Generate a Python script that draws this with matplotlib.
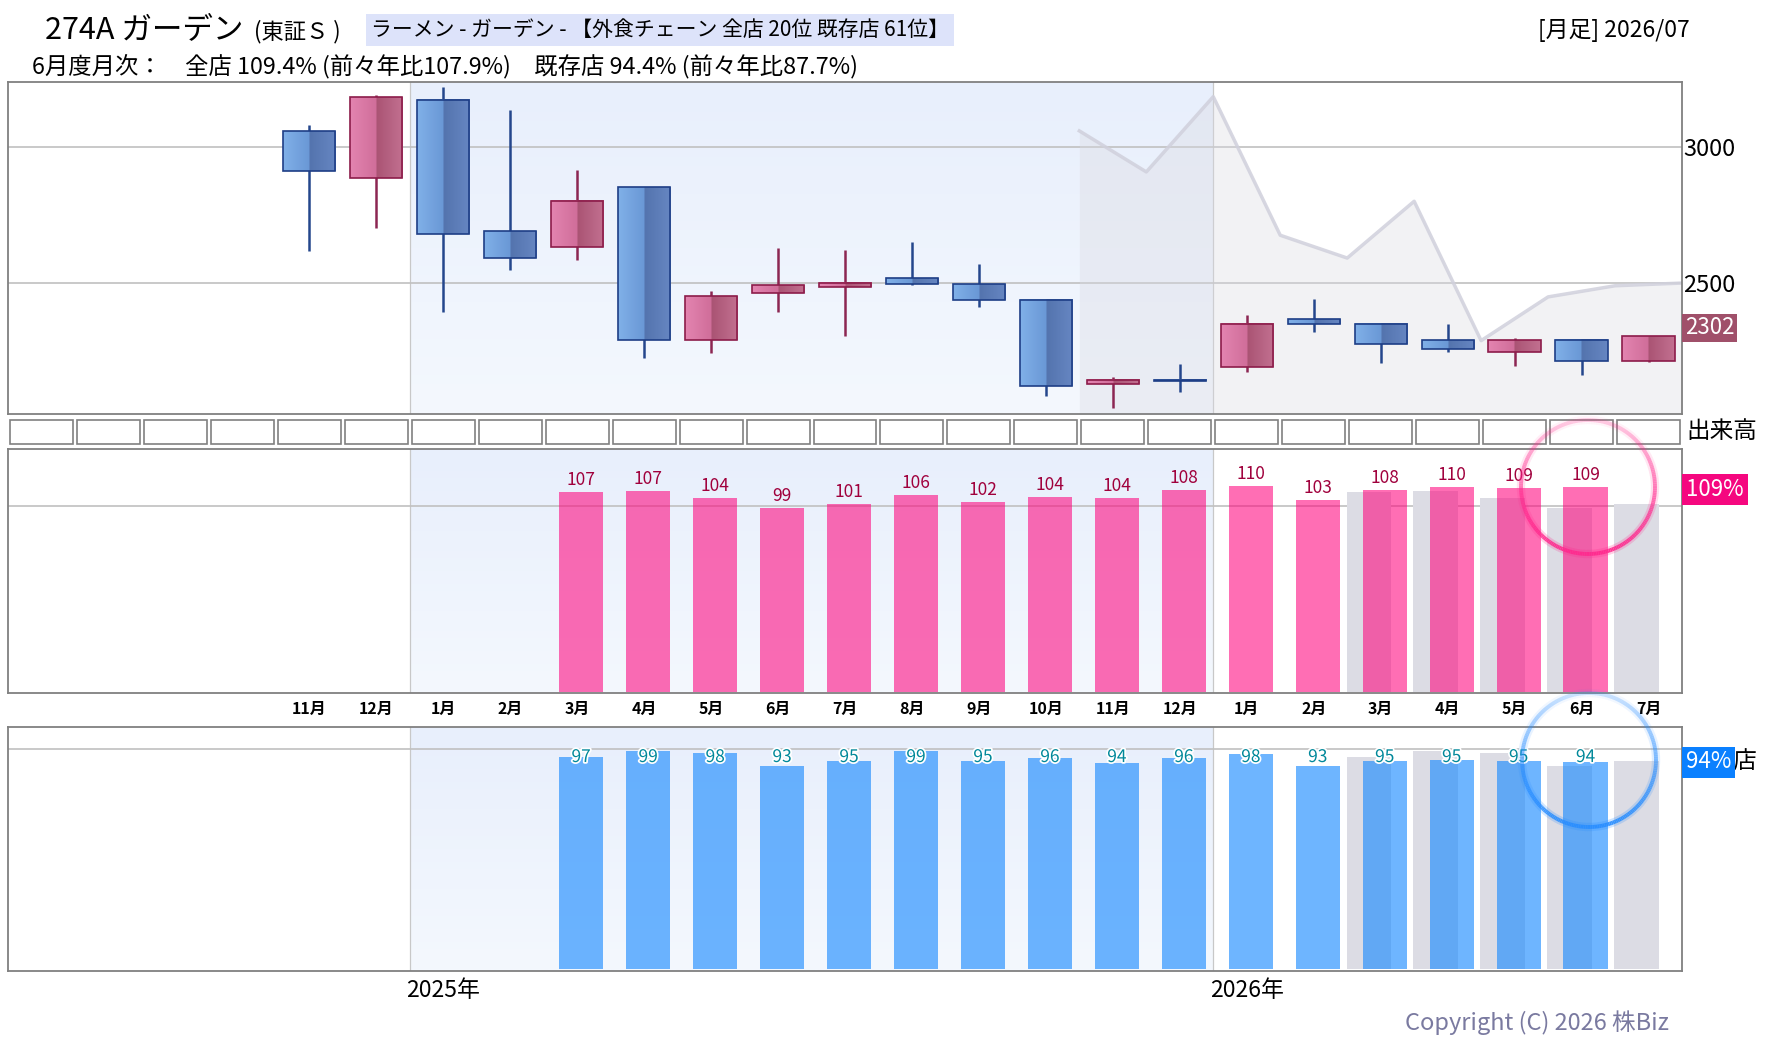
import numpy as np
import matplotlib
matplotlib.use('Agg')
import matplotlib.pyplot as plt
import matplotlib.colors as mcolors
import matplotlib.patheffects as pe
from matplotlib.patches import Rectangle
from matplotlib.collections import LineCollection

plt.rcParams['font.family'] = ['Noto Sans CJK JP', 'DejaVu Sans']

# ---- data ----
n_slots = 25                       # 2024/07 .. 2026/07, one slot per month
first_slot = 4                     # first candle = 2024/11
month_labels = ['11月', '12月', '1月', '2月', '3月', '4月', '5月', '6月', '7月', '8月', '9月',
                '10月', '11月', '12月', '1月', '2月', '3月', '4月', '5月', '6月', '7月']
opens = [3059, 2886, 3173, 2691, 2629, 2853, 2290, 2463, 2485, 2515, 2493,
         2435, 2125, 2139, 2188, 2364, 2349, 2287, 2246, 2290, 2212]
closes = [2912, 3184, 2677, 2592, 2801, 2290, 2449, 2489, 2500, 2493, 2437,
          2118, 2140, 2138, 2349, 2349, 2272, 2254, 2290, 2210, 2302]
highs = [3078, 3189, 3218, 3134, 2913, 2853, 2468, 2626, 2619, 2648, 2567,
         2435, 2152, 2200, 2380, 2439, 2349, 2347, 2297, 2290, 2302]
lows = [2616, 2701, 2392, 2547, 2583, 2223, 2241, 2392, 2304, 2490, 2410,
        2083, 2037, 2098, 2172, 2319, 2204, 2246, 2194, 2158, 2208]

# last year's closes drawn as a shaded line (slot edges 16..25)
prev_year_start = 16
prev_year_close = [3058, 2907, 3184, 2674, 2590, 2799, 2286, 2447, 2488, 2498]

# monthly sales vs last year (%), slots 8..23
pct_start = 8
zen_pct = [107.0, 107.4, 104.0, 99.0, 101.0, 105.6, 102.0, 104.4,
           104.0, 108.0, 110.0, 103.0, 108.0, 109.6, 109.0, 109.4]
kizon_pct = [96.6, 99.4, 98.4, 93.1, 95.2, 99.2, 95.0, 96.4,
             94.0, 96.1, 97.8, 93.1, 95.2, 95.4, 95.2, 94.4]
# same month one year earlier (grey bars), slots 20..24
prev_start = 20
zen_prev = [107.0, 107.4, 104.0, 99.0, 101.0]
kizon_prev = [96.6, 99.4, 98.4, 93.1, 95.2]

year_labels = ['2025年', '2026年']
year_slots = [6, 18]

W, H = 1780, 1054
fig = plt.figure(figsize=(W / 100, H / 100), dpi=100)


def px_axes(x0, y0, x1, y1):
    return fig.add_axes([x0 / W, 1 - y1 / H, (x1 - x0) / W, (y1 - y0) / H])


def style_frame(ax):
    for s in ax.spines.values():
        s.set_color('#808080')
        s.set_linewidth(1.3)
    ax.tick_params(length=0)


def shade(ax, lo, hi):
    # light blue band over calendar 2025
    g = np.linspace(0, 1, 64)[:, None, None]
    top = np.array(mcolors.to_rgb('#e8effc'))
    bot = np.array(mcolors.to_rgb('#f4f8fe'))
    img = top * (1 - g) + bot * g
    ax.imshow(img, extent=(year_slots[0], year_slots[1], lo, hi), aspect='auto',
              origin='upper', zorder=0, interpolation='bilinear')
    for b in year_slots:
        ax.axvline(b, color='#c8c8c8', lw=0.9, zorder=1)


# ---- candle panel ----
ax1 = px_axes(8, 82, 1682, 414)
ylo, yhi = 2016, 3238
shade(ax1, ylo, yhi)
ax1.axhline(2500, color='#c0c0c0', lw=1.2, zorder=1)
ax1.axhline(3000, color='#c0c0c0', lw=1.2, zorder=1)

px = np.arange(prev_year_start, prev_year_start + len(prev_year_close))
ax1.fill_between(px, prev_year_close, ylo, color='#dadae2', alpha=0.35, lw=0, zorder=2)
ax1.plot(px, prev_year_close, color='#d0d0dc', lw=2.5, alpha=0.85, zorder=2)

bw = 0.39
for i, (o, c, h, l) in enumerate(zip(opens, closes, highs, lows)):
    x = first_slot + i + 0.5
    up = c > o
    if up:
        cols = ['#e384b0', '#d06e9a', '#aa5474', '#c27090']
        edge, wick = '#8c1c4a', '#8c2652'
    else:
        cols = ['#80b0e8', '#6a98d6', '#5474ae', '#6686c2']
        edge, wick = '#1e3e86', '#24468c'
    ax1.vlines(x, l, h, color=wick, lw=1.8, zorder=3)
    b0, b1 = min(o, c), max(o, c)
    if b1 - b0 < 4:
        b0, b1 = b0 - 2, b1 + 2
    t = np.linspace(0, 1, 20)[:, None]
    left = np.array(mcolors.to_rgb(cols[0])) * (1 - t) + np.array(mcolors.to_rgb(cols[1])) * t
    right = np.array(mcolors.to_rgb(cols[2])) * (1 - t) + np.array(mcolors.to_rgb(cols[3])) * t
    img = np.vstack([left, right])[None, :, :]
    ax1.imshow(img, extent=(x - bw, x + bw, b0, b1), aspect='auto', zorder=4,
               interpolation='bilinear')
    ax1.add_patch(Rectangle((x - bw, b0), 2 * bw, b1 - b0, fill=False,
                            edgecolor=edge, lw=1.2, zorder=5))

ax1.set_xlim(0, n_slots)
ax1.set_ylim(ylo, yhi)
ax1.set_xticks([])
ax1.yaxis.tick_right()
ax1.set_yticks([2500, 3000])
ax1.set_yticklabels(['2500', '3000'], fontsize=17)
style_frame(ax1)
ax1.tick_params(axis='y', pad=1)
ax1.annotate(f'{closes[-1]}', xy=(1.0, closes[-1]), xycoords=('axes fraction', 'data'),
             xytext=(2, 6), textcoords='offset points', ha='left', va='center',
             fontsize=16, color='white',
             bbox=dict(boxstyle='square,pad=0.12', fc='#a0506a', ec='none'))

# ---- volume strip (empty cells) ----
axv = px_axes(8, 419, 1682, 445)
for i in range(n_slots):
    axv.add_patch(Rectangle((i + 0.03, 0.04), 0.94, 0.92, fc='white',
                            ec='#808080', lw=1.2))
axv.set_xlim(0, n_slots)
axv.set_ylim(0, 1)
axv.axis('off')

# ---- all-store % panel ----
ax2 = px_axes(8, 449, 1682, 693)
p_lo, p_hi, p_base = 6.65, 128.5, 7.3
shade(ax2, p_lo, p_hi)
ax2.axhline(100, color='#c0c0c0', lw=1.2, zorder=1)
gx = np.arange(prev_start, prev_start + len(zen_prev)) + 0.5 - 0.18
ax2.bar(gx, np.array(zen_prev) - p_base, bottom=p_base, width=0.66,
        color='#dcdce4', zorder=2)
zx = np.arange(pct_start, pct_start + len(zen_pct)) + 0.56
ax2.bar(zx, np.array(zen_pct) - p_base, bottom=p_base, width=0.66,
        color='#ff007b', alpha=0.57, lw=0, zorder=3)
for x, v in zip(zx, zen_pct):
    ax2.annotate(f'{v:.0f}', xy=(x, v), xytext=(0, 2), textcoords='offset points',
                 ha='center', va='bottom', fontsize=12.5, color='#a0003c', zorder=4)
ax2.set_xlim(0, n_slots)
ax2.set_ylim(p_lo, p_hi)
ax2.set_yticks([])
ax2.set_xticks(np.arange(first_slot, first_slot + len(month_labels)) + 0.5)
ax2.set_xticklabels(month_labels, fontsize=11.5, fontweight='bold')
style_frame(ax2)
ax2.tick_params(axis='x', pad=6)

# ---- existing-store % panel ----
ax3 = px_axes(8, 727, 1682, 971)
k_lo, k_hi, k_base = 6.3, 109.4, 7.0
shade(ax3, k_lo, k_hi)
ax3.axhline(100, color='#c0c0c0', lw=1.2, zorder=1)
ax3.bar(gx, np.array(kizon_prev) - k_base, bottom=k_base, width=0.66,
        color='#dcdce4', zorder=2)
ax3.bar(zx, np.array(kizon_pct) - k_base, bottom=k_base, width=0.66,
        color='#1688ff', alpha=0.62, lw=0, zorder=3)
for x, v in zip(zx, kizon_pct):
    ax3.text(x, 0.877, f'{v:.0f}', transform=ax3.get_xaxis_transform(),
             ha='center', va='center', fontsize=12.5, color='#00889a', zorder=4,
             path_effects=[pe.withStroke(linewidth=2.5, foreground='white')])
ax3.set_xlim(0, n_slots)
ax3.set_ylim(k_lo, k_hi)
ax3.set_yticks([])
ax3.set_xticks(np.array(year_slots) + 0.5)
ax3.set_xticklabels(year_labels, fontsize=16.5)
style_frame(ax3)
ax3.tick_params(axis='x', pad=6)

# ---- overlay in pixel coordinates: header texts, side labels, rings ----
ov = fig.add_axes([0, 0, 1, 1], zorder=10)
ov.set_xlim(0, W)
ov.set_ylim(H, 0)
ov.axis('off')
ov.patch.set_alpha(0)

ov.text(45, 38, '274A ガーデン', fontsize=22, va='baseline', ha='left')
ov.text(254, 38, '(東証Ｓ )', fontsize=16, va='baseline', ha='left')
ov.text(371, 30, 'ラーメン - ガーデン - 【外食チェーン 全店 20位 既存店 61位】',
        fontsize=15, va='center', ha='left',
        bbox=dict(boxstyle='square,pad=0.22', fc='#dde3fa', ec='none'))
ov.text(32, 66, '6月度月次：　全店 109.4% (前々年比107.9%)　既存店 94.4% (前々年比87.7%)',
        fontsize=16.8, va='center', ha='left')
ov.text(1690, 30, '[月足] 2026/07', fontsize=16.5, va='center', ha='right')

ov.text(1686, 431, '出来高', fontsize=17, va='center', ha='left')
ov.text(1688, 486, '全店', fontsize=15, va='center', ha='left')
ov.text(1686, 489, f'{zen_pct[-1]:.0f}%', fontsize=16, va='center', ha='left', color='white',
        bbox=dict(boxstyle='square,pad=0.18', fc='#f5077f', ec='none'))
ov.text(1686, 762, '既存店', fontsize=17, va='center', ha='left')
ov.text(1686, 762, f'{kizon_pct[-1]:.0f}%', fontsize=16, va='center', ha='left', color='white',
        bbox=dict(boxstyle='square,pad=0.18', fc='#0a80ff', ec='none'))

ov.text(1669, 1023, 'Copyright (C) 2026 株Biz', fontsize=17, va='center', ha='right',
        color='#7a7aa0')


def ring(cx, cy, r, color):
    t = np.linspace(0, 2 * np.pi, 241)
    x = cx + r * np.cos(t)
    y = cy + r * np.sin(t)
    segs = np.stack([np.column_stack([x[:-1], y[:-1]]),
                     np.column_stack([x[1:], y[1:]])], axis=1)
    tm = (t[:-1] + t[1:]) / 2
    rgba = np.tile(mcolors.to_rgba(color), (len(tm), 1))
    rgba[:, 3] = 0.2 + 0.75 * (np.sin(tm) + 1) / 2
    ov.add_collection(LineCollection(segs, colors=rgba, linewidths=2.8))
    glow = rgba.copy()
    glow[:, 3] *= 0.25
    ov.add_collection(LineCollection(segs, colors=glow, linewidths=6))


ring(1588, 487, 67, '#ff2b8f')
ring(1589, 760, 67, '#2b8fff')

fig.savefig('out.png', dpi=100)
